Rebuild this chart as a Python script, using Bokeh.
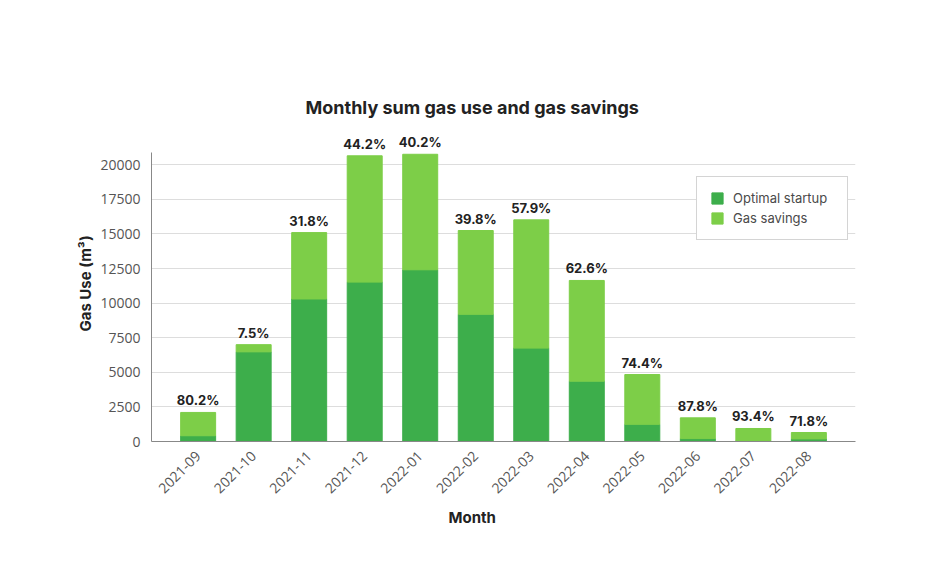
from bokeh.plotting import figure
from bokeh.models import (ColumnDataSource, FactorRange, Range1d, FixedTicker,
                          LabelSet, Title, Legend, LegendItem)
from bokeh.core.properties import value
from bokeh.embed import file_html
from bokeh.resources import INLINE
from math import pi

months = ["2021-09", "2021-10", "2021-11", "2021-12", "2022-01", "2022-02",
          "2022-03", "2022-04", "2022-05", "2022-06", "2022-07", "2022-08"]
optimal = [415, 6480, 10300, 11520, 12410, 9190, 6750, 4360, 1240, 210, 62, 185]
savings = [1685, 520, 4800, 9130, 8350, 6060, 9270, 7280, 3600, 1500, 878, 465]
pct_labels = ["80.2%", "7.5%", "31.8%", "44.2%", "40.2%", "39.8%",
              "57.9%", "62.6%", "74.4%", "87.8%", "93.4%", "71.8%"]
y_ticks = [0, 2500, 5000, 7500, 10000, 12500, 15000, 17500, 20000]

DARK = "#3dae4b"
LIGHT = "#7dce48"

totals = [a + b for a, b in zip(optimal, savings)]
source = ColumnDataSource(dict(month=months, optimal=optimal, savings=savings,
                               total=totals, label=pct_labels))

p = figure(width=923, height=570, output_backend="svg", toolbar_location=None,
           x_range=FactorRange(factors=months, range_padding=0.34,
                               range_padding_units="absolute"),
           y_range=Range1d(0, 22840),
           min_border_left=151, min_border_right=68,
           min_border_top=125, min_border_bottom=129)
p.outline_line_color = None
p.background_fill_color = "white"

p.title.text = "Monthly sum gas use and gas savings"
p.title.align = "left"
p.title.offset = 154
p.title.standoff = 15
p.title.text_font = "Inter"
p.title.text_font_size = "18px"
p.title.text_font_style = "bold"
p.title.text_color = "#222222"

r = p.vbar_stack(["optimal", "savings"], x="month", width=0.63, source=source,
                 color=[DARK, LIGHT], line_color=[DARK, LIGHT])

labels = LabelSet(x="month", y="total", text="label", source=source,
                  y_offset=4, text_align="center", text_baseline="bottom",
                  text_font=value("Inter"), text_font_size=value("13px"),
                  text_font_style=value("bold"), text_color=value("#222222"))
p.add_layout(labels)

p.yaxis.ticker = FixedTicker(ticks=y_ticks)
p.yaxis.bounds = (0, 20900)
p.yaxis.axis_label = "Gas Use (m³)"
p.yaxis.axis_label_text_font = "Inter"
p.yaxis.axis_label_text_font_size = "15px"
p.yaxis.axis_label_text_font_style = "bold"
p.yaxis.axis_label_text_color = "#222222"
p.yaxis.axis_label_standoff = 2
for ax in (p.xaxis[0], p.yaxis[0]):
    ax.major_tick_line_color = None
    ax.minor_tick_line_color = None
    ax.axis_line_color = "#888888"
    ax.major_label_text_font = "Open Sans"
    ax.major_label_text_font_size = "14px"
    ax.major_label_text_color = "#555555"
p.yaxis.major_label_standoff = 5
p.xaxis.major_label_orientation = pi / 4
p.xaxis.major_label_standoff = 6

p.xgrid.grid_line_color = None
p.ygrid.grid_line_color = "#dddddd"
p.ygrid.ticker = FixedTicker(ticks=y_ticks)

xlab = Title(text="Month", align="left", offset=297, text_font="Inter",
             text_font_size="15px", text_font_style="bold", text_color="#222222")
p.add_layout(xlab, "below")

legend = Legend(items=[LegendItem(label="Optimal startup", renderers=[r[0]]),
                       LegendItem(label="Gas savings", renderers=[r[1]])],
                location=(545, 201))
legend.label_text_font = "Inter"
legend.label_text_font_size = "13px"
legend.label_text_color = "#4a4a4a"
legend.glyph_width = 14
legend.glyph_height = 14
legend.label_height = 14
legend.label_width = 101
legend.label_standoff = 9
legend.spacing = 4
legend.padding = 13
legend.margin = 0
legend.border_line_color = "#aaaaaa"
legend.border_line_width = 1
legend.background_fill_alpha = 1
p.add_layout(legend)

open("out.html", "w").write(file_html(p, INLINE))
